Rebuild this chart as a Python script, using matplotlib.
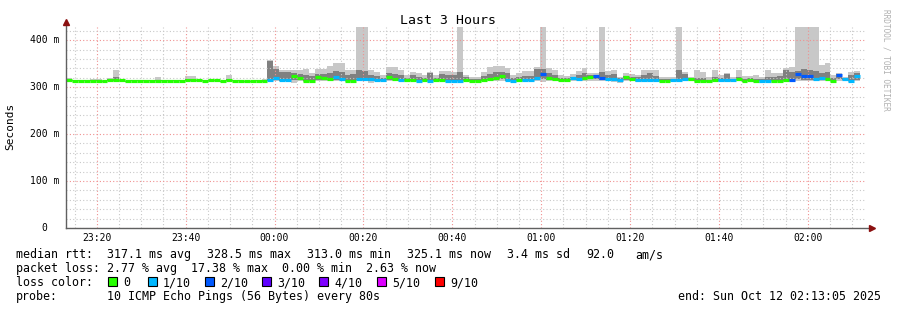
import numpy as np
import matplotlib
matplotlib.use('Agg')
import matplotlib.pyplot as plt
from matplotlib.patches import Rectangle
from matplotlib import transforms

# --- data (ms), one value per 80 s step, starting 23:13:05 ---
med = [315, 314, 314, 314, 314, 314, 312, 315, 315, 315, 312, 314, 314, 314, 314, 314, 314,
       314, 314, 314, 315, 315, 315, 314, 315, 315, 312, 315, 314, 314, 312, 312, 314, 312,
       316, 319, 316, 316, 323, 320, 314, 314, 322, 320, 318, 322, 318, 314, 314, 318, 318,
       318, 316, 316, 321, 318, 316, 315, 316, 314, 315, 314, 316, 316, 314, 314, 314, 316,
       314, 314, 316, 317, 319, 323, 316, 314, 315, 315, 316, 320, 328, 320, 318, 316, 315,
       319, 318, 320, 321, 323, 320, 317, 318, 316, 321, 317, 315, 315, 315, 315, 314, 314,
       315, 315, 318, 317, 314, 314, 313, 315, 315, 315, 315, 317, 313, 316, 313, 314, 314,
       314, 314, 315, 315, 328, 323, 323, 318, 320, 318, 314, 326, 317, 314, 323]
loss = [0] * 34 + [
       1, 1, 1, 1, 0, 0, 0, 0, 0, 0, 0, 1, 1, 0, 0, 1, 1,
       1, 1, 1, 0, 0, 1, 0, 0, 1, 0, 1, 0, 0, 1, 1, 1, 0,
       0, 0, 0, 0, 0, 0, 1, 1, 0, 1, 1, 1, 2, 0, 0, 0, 0,
       1, 1, 0, 0, 2, 2, 1, 1, 1, 0, 0, 1, 1, 1, 1, 0, 0,
       1, 1, 1, 0, 0, 0, 0, 0, 1, 1, 1, 0, 0, 0, 0, 1, 1,
       0, 0, 0, 2, 2, 2, 2, 1, 1, 0, 0, 2, 1, 1, 1]
hi = [320, 315, 315, 315, 317, 317, 316, 319, 336, 316, 313, 315, 315, 315, 315, 321, 315,
      315, 315, 315, 323, 323, 316, 315, 317, 316, 313, 326, 315, 315, 313, 313, 315, 318,
      357, 345, 336, 336, 336, 336, 338, 330, 338, 338, 345, 351, 351, 336, 336, 430, 430,
      336, 333, 325, 342, 342, 336, 325, 333, 331, 325, 333, 325, 335, 335, 333, 430, 325,
      322, 322, 333, 343, 345, 345, 340, 325, 331, 335, 335, 342, 430, 340, 336, 325, 323,
      327, 335, 340, 330, 330, 430, 335, 336, 321, 330, 328, 325, 336, 336, 336, 321, 321,
      321, 430, 333, 321, 336, 333, 321, 336, 325, 331, 321, 337, 323, 323, 325, 321, 336,
      331, 331, 340, 342, 430, 430, 430, 430, 347, 352, 325, 330, 322, 333, 335]
mhi = [318, 315, 315, 315, 315, 315, 313, 317, 322, 315, 313, 315, 315, 315, 315, 316, 315,
       315, 315, 315, 318, 318, 316, 315, 316, 316, 313, 318, 315, 315, 313, 313, 315, 315,
       355, 338, 332, 332, 330, 328, 326, 324, 328, 328, 330, 335, 332, 326, 328, 336, 334,
       326, 324, 320, 330, 328, 326, 320, 326, 322, 320, 330, 320, 328, 326, 326, 333, 322,
       318, 318, 324, 328, 333, 332, 330, 320, 322, 324, 324, 338, 338, 330, 326, 320, 319,
       322, 326, 330, 325, 326, 332, 325, 328, 319, 324, 322, 321, 325, 330, 324, 318, 318,
       318, 336, 328, 319, 320, 320, 316, 322, 320, 328, 318, 322, 318, 320, 318, 318, 322,
       322, 324, 336, 332, 334, 338, 336, 334, 330, 332, 320, 328, 320, 326, 330]
mlo = [313, 313, 313, 313, 313, 313, 311, 313, 313, 313, 311, 313, 313, 313, 313, 313, 313,
       313, 313, 313, 313, 313, 313, 313, 313, 313, 311, 313, 313, 313, 311, 311, 313, 311,
       313, 315, 314, 314, 316, 316, 312, 312, 316, 316, 315, 316, 315, 313, 313, 315, 315,
       314, 314, 314, 316, 315, 314, 313, 314, 312, 313, 312, 314, 314, 312, 312, 312, 314,
       313, 313, 314, 315, 316, 318, 314, 312, 313, 313, 314, 316, 318, 316, 315, 314, 313,
       316, 315, 316, 317, 318, 316, 315, 315, 313, 316, 315, 313, 313, 313, 313, 312, 312,
       313, 313, 315, 315, 312, 312, 311, 313, 313, 313, 313, 315, 311, 314, 311, 312, 312,
       312, 312, 313, 313, 318, 316, 316, 315, 316, 315, 312, 318, 315, 312, 316]
lo = [312, 312, 312, 312, 312, 312, 310, 312, 312, 312, 310, 312, 312, 312, 312, 312, 312,
      312, 312, 312, 312, 312, 312, 312, 312, 312, 310, 312, 312, 312, 310, 310, 312, 310,
      312, 313, 312, 312, 309, 313, 310, 311, 313, 313, 312, 313, 312, 311, 311, 312, 312,
      309, 312, 312, 313, 312, 312, 311, 312, 310, 311, 311, 312, 312, 310, 311, 311, 312,
      311, 311, 312, 312, 313, 314, 312, 311, 311, 311, 312, 313, 310, 313, 312, 312, 311,
      313, 312, 313, 314, 314, 313, 312, 311, 309, 313, 312, 311, 311, 311, 311, 311, 311,
      311, 311, 312, 312, 311, 311, 310, 311, 311, 311, 311, 312, 310, 312, 310, 309, 311,
      311, 311, 311, 311, 312, 312, 312, 312, 313, 312, 311, 313, 312, 311, 313]

loss_colors = {0: '#26ff00', 1: '#00b8ff', 2: '#0059ff', 3: '#5e00ff',
               4: '#7e00ff', 5: '#dd00ff', 9: '#ff0000'}
legend_keys = [0, 1, 2, 3, 4, 5, 9]
legend_names = ['0', '1/10', '2/10', '3/10', '4/10', '5/10', '9/10']

xlabels = ['23:20', '23:40', '00:00', '00:20', '00:40', '01:00', '01:20', '01:40', '02:00']
ylabels = ['0', '100 m', '200 m', '300 m', '400 m']

W, H = 897, 310
MONO = 'DejaVu Sans Mono'
step = 80 / 60.0
x0 = np.arange(len(med)) * step
med, hi, mhi, mlo, lo = map(np.array, (med, hi, mhi, mlo, lo))

fig = plt.figure(figsize=(W / 100, H / 100), dpi=100)
ax = fig.add_axes([66 / W, (H - 228) / H, 800 / W, 201 / H])
ax.set_xlim(0, 180)
ax.set_ylim(0, 428)

# smoke
ax.bar(x0, hi - lo, bottom=lo, width=step, align='edge', color='#c8c8c8', lw=0, zorder=1)
ax.bar(x0, mhi - mlo, bottom=mlo, width=step, align='edge', color='#808080', lw=0, zorder=1.5)
# median coloured by loss
ax.hlines(med, x0, x0 + step, colors=[loss_colors[l] for l in loss], lw=2.3, zorder=3)

# grid
xmaj = 6 + 55 / 60 + 20 * np.arange(len(xlabels))
xmin = 1 + 55 / 60 + 5 * np.arange(36)
ax.set_xticks(xmaj, xlabels)
ax.set_xticks(xmin, minor=True)
ax.set_yticks([0, 100, 200, 300, 400], [''] * 5)
ax.set_yticks(np.arange(20, 430, 20), minor=True)
ax.grid(which='minor', color='#c8c8c8', ls=(0, (1, 2)), lw=0.8, zorder=2)
ax.grid(which='major', color='#f09090', ls=(0, (1, 2)), lw=0.8, zorder=2)
ax.set_axisbelow(False)
ax.tick_params(which='both', length=0)
ax.tick_params(axis='x', pad=3.5, labelsize=7)
for lab in ax.get_xticklabels():
    lab.set_family(MONO)
for s in ax.spines.values():
    s.set_visible(False)

# y tick labels
ytr = ax.get_yaxis_transform()
for v, s in zip([0, 100, 200, 300, 400], ylabels):
    off = -19 if s == '0' else -7
    t = transforms.offset_copy(ytr, fig=fig, x=off, y=0, units='dots')
    ax.text(0, v, s, transform=t, ha='right', va='center', fontsize=7, family=MONO)

# axes with arrows
ax.plot([0, 0], [0, 1 + 5 / 201], transform=ax.transAxes, color='#606060', lw=1,
        clip_on=False, zorder=5)
ax.plot([0, 1 + 5 / 800], [0, 0], transform=ax.transAxes, color='#606060', lw=1,
        clip_on=False, zorder=5)
ax.plot(0, 1 + 5 / 201, marker='^', ms=4, color='#8b1010', transform=ax.transAxes,
        clip_on=False, zorder=6)
ax.plot(1 + 6 / 800, 0, marker='>', ms=4, color='#8b1010', transform=ax.transAxes,
        clip_on=False, zorder=6)


def ftext(x, y, s, **kw):
    kw.setdefault('fontsize', 8.4)
    kw.setdefault('va', 'baseline')
    if kw['va'] == 'baseline':
        y = y + 4
    fig.text(x / W, 1 - y / H, s, family=MONO, **kw)


ftext(448, 20, 'Last 3 Hours', ha='center', fontsize=9.5)
ftext(10, 126, 'Seconds', ha='center', va='center', rotation=90, fontsize=8)
ftext(886, 60, 'RRDTOOL / TOBI OETIKER', ha='center', va='center', rotation=270,
      fontsize=5.6, color='#b0b0b0')

ftext(16, 254, 'median rtt:')
for x, s in zip([107, 207, 307, 407, 507, 586, 635],
                ['317.1 ms avg', '328.5 ms max', '313.0 ms min', '325.1 ms now',
                 '3.4 ms sd', '92.0', 'am/s']):
    ftext(x, 254, s)
ftext(16, 268, 'packet loss:')
ftext(107, 268, '2.77 % avg  17.38 % max  0.00 % min  2.63 % now')
ftext(16, 282, 'loss color:')
for x, k, s in zip([108, 148, 205, 262, 319, 377, 435], legend_keys, legend_names):
    fig.add_artist(Rectangle((x / W, 1 - 286 / H), 9 / W, 9 / H, transform=fig.transFigure,
                             facecolor=loss_colors[k], edgecolor='black', lw=0.8))
    ftext(x + 15, 282, s)
ftext(16, 296, 'probe:')
ftext(107, 296, '10 ICMP Echo Pings (56 Bytes) every 80s')
ftext(881, 296, 'end: Sun Oct 12 02:13:05 2025', ha='right')

fig.savefig('out.png', dpi=100, facecolor='white')
